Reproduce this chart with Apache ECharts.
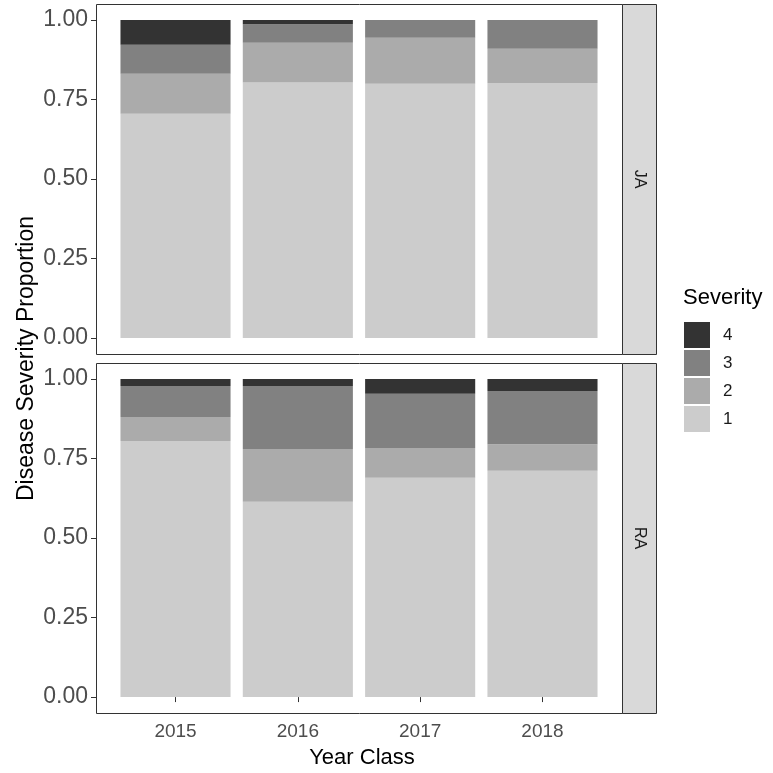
<!DOCTYPE html>
<html>
<head>
<meta charset="utf-8">
<script src="https://cdn.jsdelivr.net/npm/echarts@6/dist/echarts.min.js"></script>
<style>html,body{margin:0;padding:0;background:#fff;}#chart{width:773px;height:773px;}</style>
</head>
<body>
<div id="chart"></div>
<script>
// ---- data ----
const years = ['2015', '2016', '2017', '2018'];
const levels = ['1', '2', '3', '4'];
const legendOrder = ['4', '3', '2', '1'];
const panels = ['JA', 'RA'];
const JA_1 = [0.705, 0.803, 0.799, 0.802];
const JA_2 = [0.126, 0.125, 0.145, 0.107];
const JA_3 = [0.091, 0.058, 0.056, 0.091];
const JA_4 = [0.078, 0.014, 0.000, 0.000];
const RA_1 = [0.805, 0.614, 0.689, 0.711];
const RA_2 = [0.075, 0.166, 0.094, 0.084];
const RA_3 = [0.098, 0.198, 0.170, 0.167];
const RA_4 = [0.022, 0.022, 0.047, 0.038];
const yTicks = [0, 0.25, 0.5, 0.75, 1];

const panelData = {
  JA: [JA_1, JA_2, JA_3, JA_4],
  RA: [RA_1, RA_2, RA_3, RA_4]
};
const fills = { '1': '#CCCCCC', '2': '#ABABAB', '3': '#818181', '4': '#333333' };

// ---- layout ----
const PL = 96, PW = 526, PH = 350;
const panelTops = [4, 363];
const expand = 0.65;
const band = PW / (years.length - 1 + 2 * expand);
const gridLeft = PL + (expand - 0.5) * band;
const gridWidth = band * years.length;
const FONT = 'Liberation Sans, Arial, sans-serif';

const chart = echarts.init(document.getElementById('chart'), null, { renderer: 'canvas' });

const grids = panelTops.map(t => ({ left: gridLeft, top: t, width: gridWidth, height: PH, containLabel: false }));

const xAxes = panels.map((p, i) => ({
  type: 'category',
  gridIndex: i,
  data: years,
  boundaryGap: true,
  show: i === 1,
  axisLine: { show: false },
  axisTick: { show: true, alignWithLabel: true, length: 5, lineStyle: { color: '#333333', width: 1 } },
  axisLabel: { show: true, fontSize: 19, color: '#4D4D4D', margin: 9, fontFamily: FONT },
  splitLine: { show: false }
}));

const yAxes = panels.map((p, i) => ({
  type: 'value',
  gridIndex: i,
  min: -0.05,
  max: 1.05,
  offset: gridLeft - PL,
  axisLine: { show: false },
  axisTick: { show: true, length: 5, customValues: yTicks, lineStyle: { color: '#333333', width: 1 } },
  axisLabel: { show: true, customValues: yTicks, fontSize: 23, color: '#4D4D4D', margin: 8,
    fontFamily: FONT, formatter: v => Number(v).toFixed(2) },
  splitLine: { show: false }
}));

const series = [];
panels.forEach((p, i) => {
  levels.forEach((lv, k) => {
    series.push({
      type: 'bar',
      name: lv,
      xAxisIndex: i,
      yAxisIndex: i,
      stack: 'stack' + p,
      barWidth: '90%',
      data: panelData[p][k],
      itemStyle: { color: fills[lv], borderWidth: 0 },
      emphasis: { disabled: true },
      animation: false
    });
  });
});

const graphics = [];
panelTops.forEach((t, i) => {
  graphics.push({ type: 'rect', silent: true, z: 10,
    shape: { x: PL + 0.5, y: t + 0.5, width: PW, height: PH },
    style: { fill: 'none', stroke: '#333333', lineWidth: 1 } });
  graphics.push({ type: 'rect', silent: true, z: 10,
    shape: { x: PL + PW + 0.5, y: t + 0.5, width: 34, height: PH },
    style: { fill: '#D9D9D9', stroke: '#333333', lineWidth: 1 } });
  graphics.push({ type: 'text', silent: true, z: 11,
    x: PL + PW + 17.5, y: t + PH / 2, rotation: -Math.PI / 2,
    style: { text: panels[i], fontSize: 16, fill: '#1A1A1A', align: 'center', verticalAlign: 'middle', fontFamily: FONT } });
});
graphics.push({ type: 'text', silent: true, z: 11,
  x: 27, y: (panelTops[0] + panelTops[1] + PH) / 2, rotation: Math.PI / 2,
  style: { text: 'Disease Severity Proportion', fontSize: 23, fill: '#000000', align: 'center', verticalAlign: 'middle', fontFamily: FONT } });
graphics.push({ type: 'text', silent: true, z: 11,
  x: PL + PW / 2 + 3, y: 758,
  style: { text: 'Year Class', fontSize: 22, fill: '#000000', align: 'center', verticalAlign: 'middle', fontFamily: FONT } });
graphics.push({ type: 'text', silent: true, z: 11,
  x: 683, y: 298,
  style: { text: 'Severity', fontSize: 22, fill: '#000000', align: 'left', verticalAlign: 'middle', fontFamily: FONT } });

chart.setOption({
  animation: false,
  backgroundColor: '#FFFFFF',
  grid: grids,
  xAxis: xAxes,
  yAxis: yAxes,
  legend: {
    data: legendOrder,
    orient: 'vertical',
    left: 684,
    top: 322,
    icon: 'rect',
    itemWidth: 26,
    itemHeight: 26,
    itemGap: 2,
    selectedMode: false,
    padding: 0,
    textStyle: { fontSize: 17, color: '#1A1A1A', padding: [0, 0, 0, 8], fontFamily: FONT }
  },
  graphic: graphics,
  series: series
});
</script>
</body>
</html>
